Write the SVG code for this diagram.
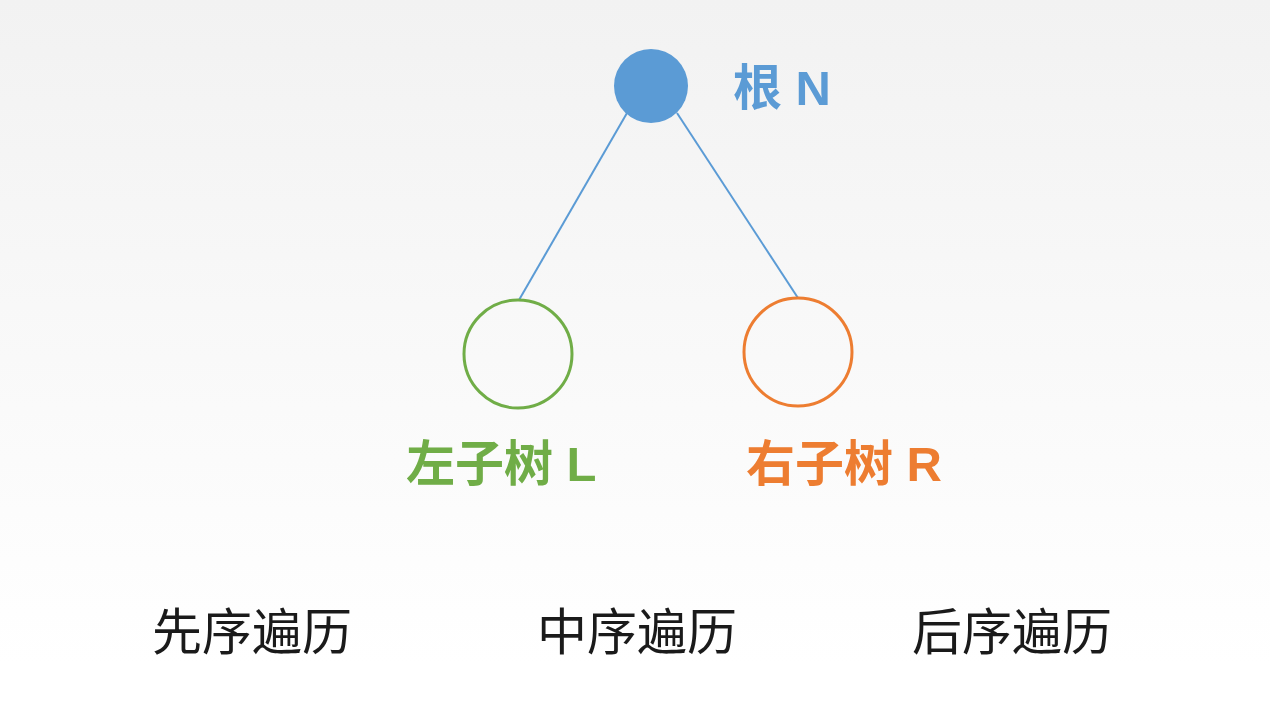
<svg xmlns="http://www.w3.org/2000/svg" width="1270" height="714" viewBox="0 0 1270 714">
<defs>
<linearGradient id="bg" x1="0" y1="0" x2="0" y2="1">
<stop offset="0" stop-color="#f2f2f2"/>
<stop offset="0.93" stop-color="#ffffff"/>
<stop offset="1" stop-color="#ffffff"/>
</linearGradient>
<style>
.lbl{font-family:"Liberation Sans","Noto Sans CJK SC",sans-serif;font-weight:bold;font-size:49px}
.trav{font-family:"Noto Sans CJK SC","Liberation Sans",sans-serif;font-size:50px;fill:#1a1a1a}
.edge{stroke:#5b9bd5;stroke-width:2;fill:none}
</style>
</defs>
<rect x="0" y="0" width="1270" height="714" fill="url(#bg)"/>
<g id="connectors">
<line class="edge" x1="627" y1="113" x2="519" y2="300"/>
<line class="edge" x1="677" y1="113" x2="798" y2="298"/>
</g>
<g id="root">
<circle cx="651" cy="86" r="37" fill="#5b9bd5"/>
<text class="lbl" x="733" y="105" fill="#5b9bd5">根 N</text>
</g>
<g id="left">
<circle cx="518" cy="354" r="54" fill="none" stroke="#70ad47" stroke-width="3"/>
<text class="lbl" x="406" y="481" fill="#70ad47">左子树 L</text>
</g>
<g id="right">
<circle cx="798" cy="352" r="54" fill="none" stroke="#ed7d31" stroke-width="3"/>
<text class="lbl" x="746" y="481" fill="#ed7d31">右子树 R</text>
</g>
<g id="pre"><text class="trav" x="152" y="650">先序遍历</text></g>
<g id="in"><text class="trav" x="537" y="650">中序遍历</text></g>
<g id="post"><text class="trav" x="912" y="650">后序遍历</text></g>
</svg>
